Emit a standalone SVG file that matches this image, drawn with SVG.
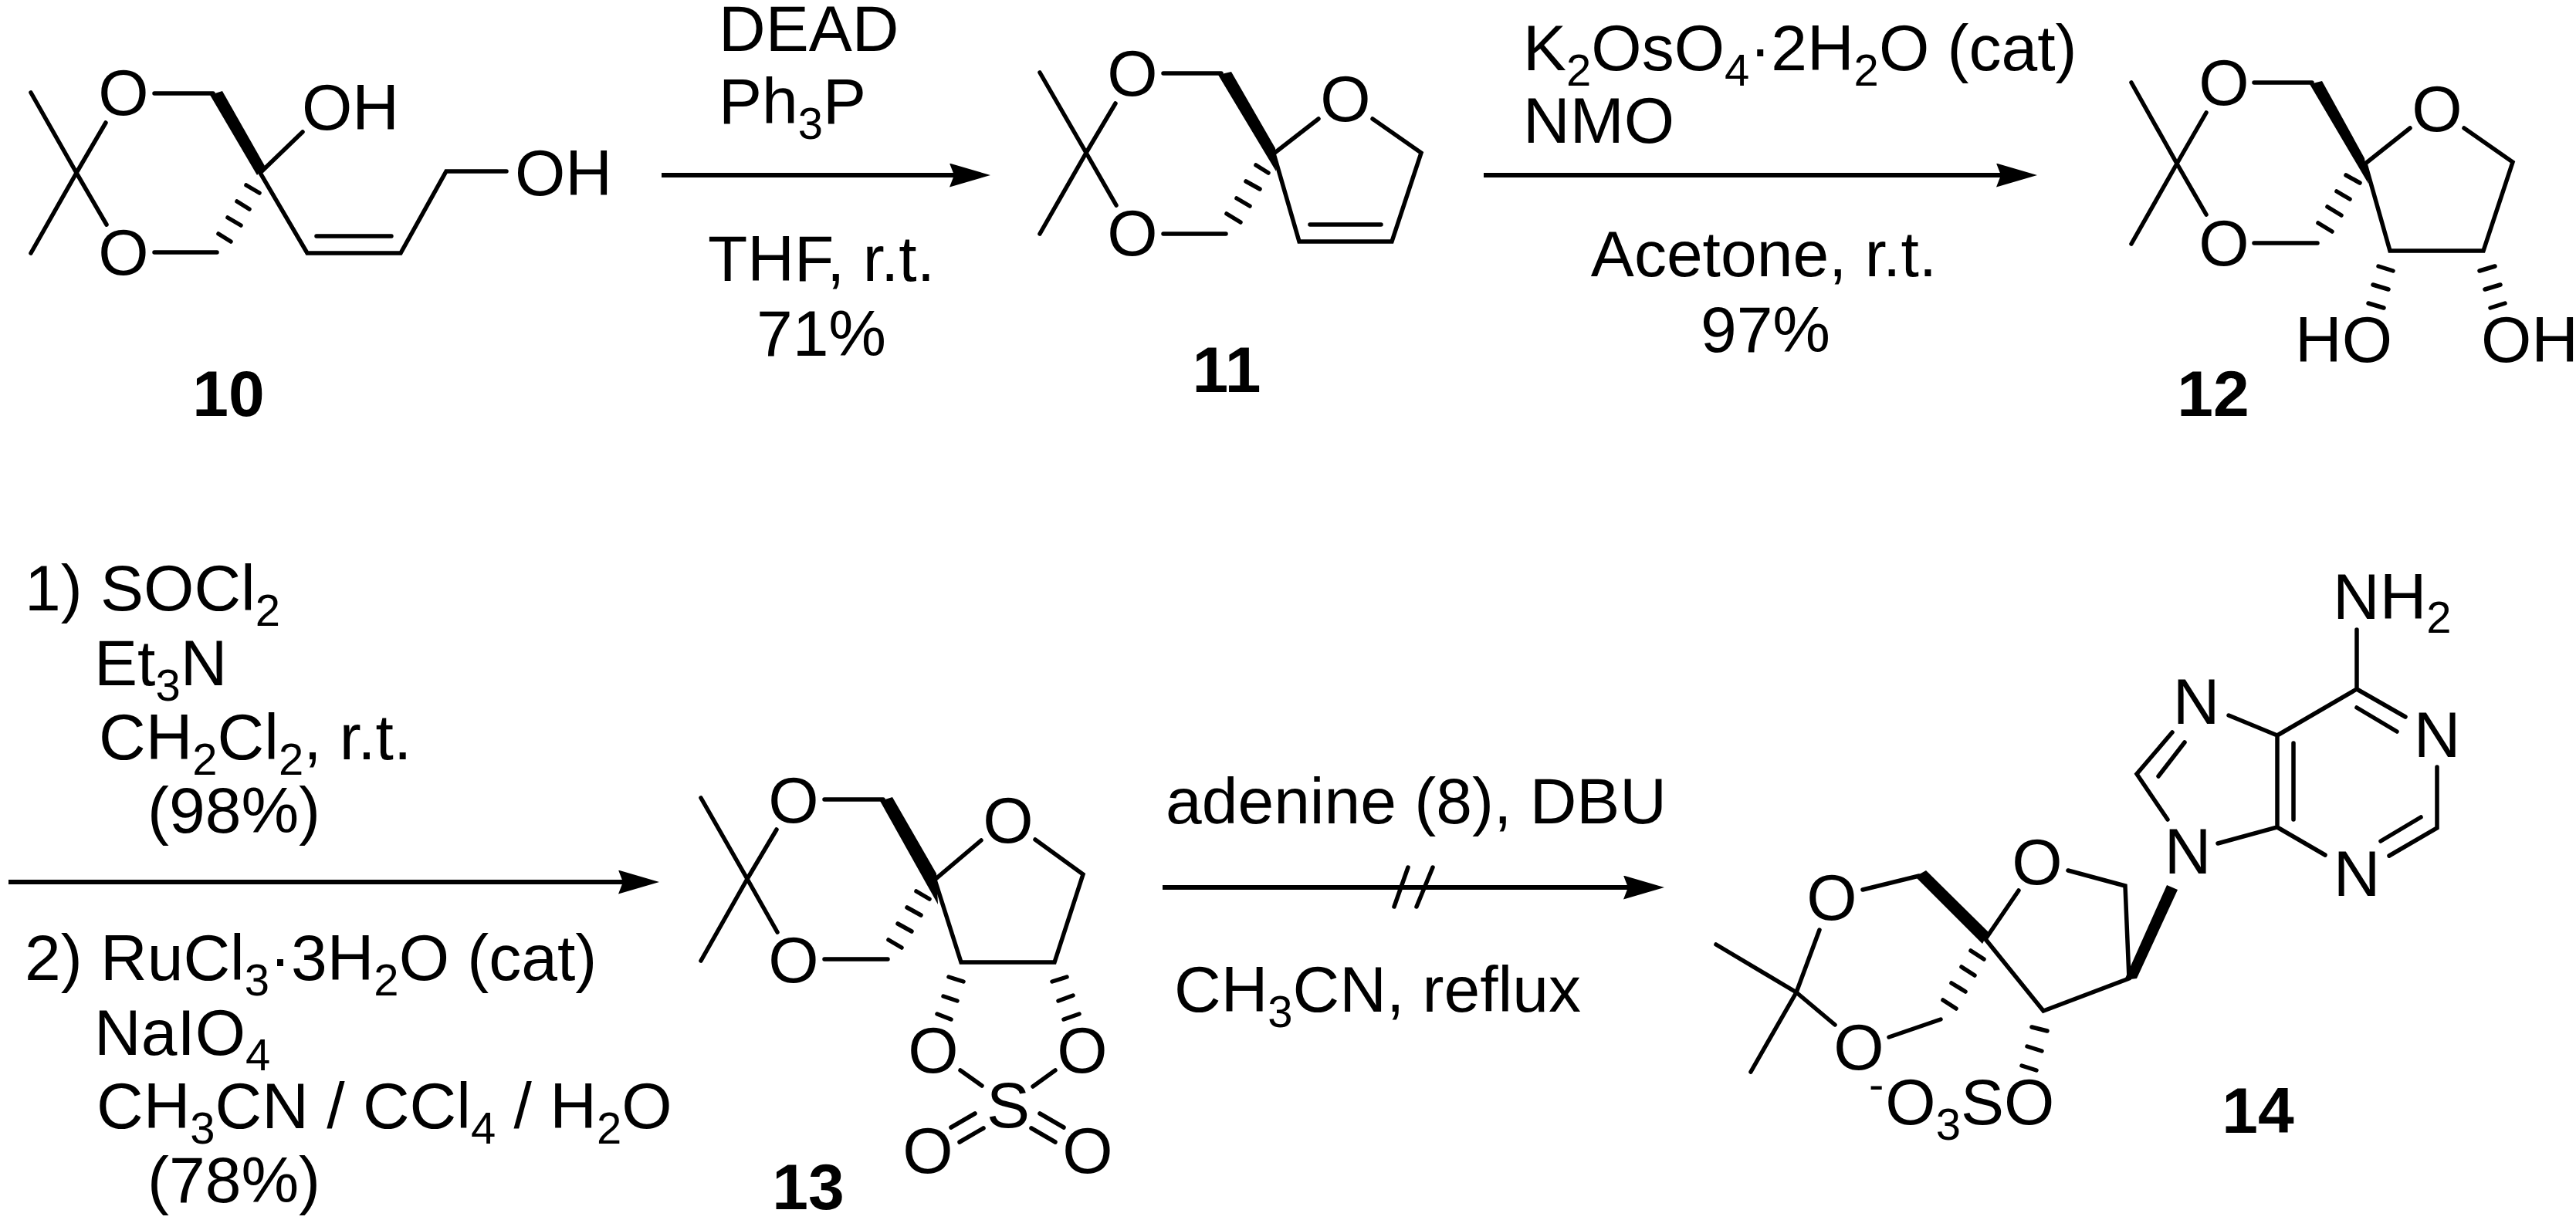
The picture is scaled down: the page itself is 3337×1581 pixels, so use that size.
<svg xmlns="http://www.w3.org/2000/svg" width="3337" height="1581" viewBox="0 0 3337 1581">
<style>
text{font-family:"Liberation Sans",Arial,sans-serif;font-size:84px;fill:#000}
.m{text-anchor:middle}
.b{font-weight:bold}
.s{font-size:58px}
.bond{fill:none;stroke:#000;stroke-width:5.5;stroke-linejoin:miter;stroke-linecap:round}
.hash{fill:none;stroke:#000;stroke-width:5.5;stroke-linecap:round}
.wedge{fill:#000;stroke:none}
.arrow{fill:none;stroke:#000;stroke-width:6}
</style>
<defs>
<marker id="head" markerUnits="userSpaceOnUse" viewBox="0 0 53 31" refX="43" refY="15.5" markerWidth="53" markerHeight="31" orient="auto"><path d="M0 0L53 15.5L0 31L6 15.5Z" fill="#000"/></marker>
</defs>
<rect width="3337" height="1581" fill="#fff"/>

<g id="mol-10">
<path class="bond" d="M40 120L99 224L40 328M99 224L137 159M99 224L138 291M200 121H276M392 171L337 224L398 328H519L578 222H656M410 306H507M200 327H281"/>
<polygon class="wedge" points="272,123 288,118 343,215 333,227"/>
<path class="hash" d="M319 240L336 250M307 261L323 271M295 282L312 292M283 303L299 313"/>
<text class="m" x="160" y="149">O</text><text class="m" x="160" y="356">O</text>
<text x="391" y="168">OH</text><text x="667" y="253">OH</text>
<text class="m b" x="296" y="539">10</text>
</g>

<g id="mol-11">
<path class="bond" d="M1347 94L1407 198L1347 303M1407 198L1445 134M1407 198L1446 266M1507 95H1582M1708 154L1650 199L1683 313H1803L1841 198L1778 154M1697 291H1789M1507 303H1588"/>
<polygon class="wedge" points="1578,97 1595,93 1652,192 1653,222"/>
<path class="hash" d="M1627 214L1643 224M1614 235L1632 245M1602 257L1619 267M1589 277L1607 288"/>
<text class="m" x="1467" y="124">O</text><text class="m" x="1467" y="331">O</text><text class="m" x="1743" y="157">O</text>
<text class="m b" x="1589" y="508">11</text>
</g>

<g id="mol-12">
<path class="bond" d="M2761 107L2820 212L2761 316M2820 212L2858 146M2820 212L2858 278M2920 107H2995M3122 166L3064 212L3096 325H3217L3255 210L3192 166M2920 315H3002"/>
<polygon class="wedge" points="2992,109 3008,105 3063,205 3068,238"/>
<path class="hash" d="M3039 227L3057 237M3027 248L3044 258M3015 268L3033 279M3003 289L3021 300M3081 345L3100 351M3074 369L3094 375M3068 393L3088 399M3212 351L3232 345M3219 375L3239 369M3226 399L3245 393"/>
<text class="m" x="2881" y="136">O</text><text class="m" x="2881" y="344">O</text><text class="m" x="3157" y="170">O</text>
<text x="2973" y="469">HO</text><text x="3214" y="469">OH</text>
<text class="m b" x="2867" y="539">12</text>
</g>

<g id="mol-13">
<path class="bond" d="M908 1034L968 1139L908 1245M968 1139L1006 1075M968 1139L1007 1208M1068 1036H1144M1271 1089L1211 1140L1245 1247H1366L1403 1133L1341 1088M1068 1243H1150M1244 1387L1272 1407M1367 1387L1338 1408M1263 1443L1232 1461M1274 1462L1243 1480M1347 1443L1378 1461M1336 1462L1367 1480"/>
<polygon class="wedge" points="1140,1038 1156,1033 1213,1132 1215,1172"/>
<path class="hash" d="M1187 1155L1204 1165M1175 1176L1193 1186M1163 1197L1181 1207M1151 1218L1168 1228M1229 1266L1248 1272M1222 1291L1240 1297M1214 1314L1232 1321M1363 1272L1382 1266M1371 1297L1390 1290M1378 1321L1398 1314"/>
<text class="m" x="1028" y="1066">O</text><text class="m" x="1028" y="1273">O</text><text class="m" x="1306" y="1092">O</text>
<text class="m" x="1209" y="1390">O</text><text class="m" x="1402" y="1390">O</text><text class="m" x="1306" y="1461">S</text>
<text class="m" x="1202" y="1520">O</text><text class="m" x="1409" y="1520">O</text>
<text class="m b" x="1047" y="1567">13</text>
</g>

<g id="mol-14">
<path class="bond" d="M2223 1224L2327 1286L2268 1389M2327 1286L2357 1205M2327 1286L2377 1328M2413 1153L2486 1135M2615 1154L2572 1217L2647 1310L2758 1268L2753 1148L2679 1128M2447 1344L2514 1321M2873 1093L2950 1072V953L2887 927M2971 1062V963M2814 949L2768 1003L2808 1062M2830 962L2796 1006M2950 953L3053 893V816M3053 893L3116 929M3053 917L3105 948M3157 994V1073L3095 1109M3136 1059L3084 1090M3012 1108L2950 1072"/>
<polygon class="wedge" points="2481,1136 2495,1128 2576,1208 2568,1223"/>
<polygon class="wedge" points="2752,1270 2768,1268 2821,1153 2807,1147"/>
<path class="hash" d="M2553 1232L2570 1243M2541 1253L2558 1264M2528 1274L2546 1285M2517 1296L2534 1307M2632 1331L2652 1336M2626 1356L2645 1362M2619 1381L2638 1387"/>
<text class="m" x="2373" y="1192">O</text><text class="m" x="2408" y="1386">O</text><text class="m" x="2639" y="1146">O</text>
<text class="m" x="2834" y="1132">N</text><text class="m" x="2845" y="938">N</text><text class="m" x="3157" y="981">N</text><text class="m" x="3053" y="1161">N</text>
<text x="3022" y="802">NH<tspan class="s" dy="18">2</tspan></text>
<text x="2421" y="1457"><tspan class="s" dy="-32">-</tspan><tspan dx="2" dy="32">O</tspan><tspan class="s" dy="20">3</tspan><tspan dy="-20">SO</tspan></text>
<text class="m b" x="2925" y="1468">14</text>
</g>

<g id="conditions">
<text x="931" y="66">DEAD</text>
<text x="931" y="160">Ph<tspan class="s" dy="20">3</tspan><tspan dy="-20">P</tspan></text>
<text class="m" x="1064" y="364">THF, r.t.</text>
<text class="m" x="1064" y="461">71%</text>
<text x="1973" y="91">K<tspan class="s" dy="20">2</tspan><tspan dy="-20">OsO</tspan><tspan class="s" dy="20">4</tspan><tspan dy="-20">·2H</tspan><tspan class="s" dy="20">2</tspan><tspan dy="-20">O (cat)</tspan></text>
<text x="1973" y="185">NMO</text>
<text class="m" x="2285" y="358">Acetone, r.t.</text>
<text class="m" x="2287" y="456">97%</text>
<text x="32" y="791">1) SOCl<tspan class="s" dy="20">2</tspan></text>
<text x="122" y="888">Et<tspan class="s" dy="20">3</tspan><tspan dy="-20">N</tspan></text>
<text x="128" y="984">CH<tspan class="s" dy="20">2</tspan><tspan dy="-20">Cl</tspan><tspan class="s" dy="20">2</tspan><tspan dy="-20">, r.t.</tspan></text>
<text x="191" y="1079">(98%)</text>
<text x="32" y="1270">2) RuCl<tspan class="s" dy="20">3</tspan><tspan dy="-20">·3H</tspan><tspan class="s" dy="20">2</tspan><tspan dy="-20">O (cat)</tspan></text>
<text x="122" y="1367">NaIO<tspan class="s" dy="20">4</tspan></text>
<text x="125" y="1462">CH<tspan class="s" dy="20">3</tspan><tspan dy="-20">CN / CCl</tspan><tspan class="s" dy="20">4</tspan><tspan dy="-20"> / H</tspan><tspan class="s" dy="20">2</tspan><tspan dy="-20">O</tspan></text>
<text x="191" y="1558">(78%)</text>
<text x="1510" y="1067">adenine (8), DBU</text>
<text x="1521" y="1311">CH<tspan class="s" dy="20">3</tspan><tspan dy="-20">CN, reflux</tspan></text>
</g>

<g id="connectors">
<path class="arrow" marker-end="url(#head)" d="M857 227H1273"/>
<path class="arrow" marker-end="url(#head)" d="M1922 227H2629"/>
<path class="arrow" marker-end="url(#head)" d="M11 1143H844"/>
<path class="arrow" marker-end="url(#head)" d="M1506 1150H2146"/>
<path class="bond" d="M1824 1124L1806 1175M1856 1124L1835 1175"/>
</g>
</svg>
